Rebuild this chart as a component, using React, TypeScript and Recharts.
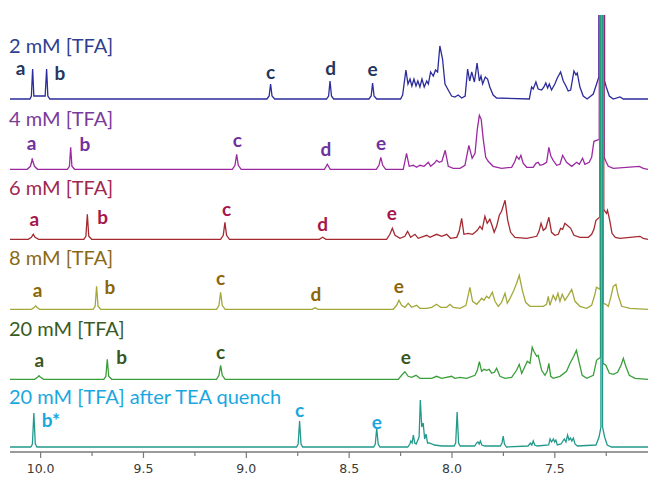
import { LineChart, Line, XAxis, YAxis, ReferenceDot } from 'recharts';

// chemical shift (ppm) vs. signal height above each trace's baseline
const TFA_2MM: [number, number][] = [
  [10.149, 0], [10.052, 0], [10.045, 3], [10.039, 30], [10.033, 3], [9.978, 3], [9.971, 30], [9.965, 3], [9.955, 0],
  [8.900, 0], [8.889, 3], [8.882, 15], [8.875, 3], [8.862, 0],
  [8.610, 0], [8.600, 3], [8.593, 18], [8.586, 3], [8.575, 0],
  [8.404, 0], [8.393, 3], [8.386, 16], [8.379, 3], [8.366, 0],
  [8.250, 0], [8.240, 4], [8.224, 29], [8.214, 15], [8.204, 20], [8.195, 13], [8.185, 20], [8.175, 13], [8.166, 18],
  [8.156, 12], [8.146, 20], [8.135, 12], [8.123, 18], [8.115, 15], [8.104, 27], [8.091, 23], [8.080, 29], [8.070, 27],
  [8.059, 53], [8.046, 40], [8.034, 15], [8.021, 10], [8.002, 3], [7.986, 2], [7.970, 4], [7.953, 1], [7.936, 3],
  [7.924, 30], [7.914, 18], [7.904, 27], [7.891, 17], [7.878, 36], [7.867, 18], [7.859, 23], [7.851, 15], [7.838, 22],
  [7.827, 20], [7.816, 12], [7.800, 4], [7.783, 1], [7.624, 0],
  [7.613, 12], [7.605, 10], [7.592, 17], [7.581, 10], [7.564, 9], [7.553, 12], [7.544, 16], [7.535, 11], [7.527, 15],
  [7.516, 9], [7.500, 15], [7.488, 21], [7.472, 27], [7.459, 18], [7.446, 13], [7.435, 8], [7.423, 9], [7.407, 28],
  [7.397, 24], [7.391, 26], [7.378, 12], [7.362, 3], [7.343, 0], [7.313, 5], [7.297, 15], [7.286, 22], [7.272, 5000],
  [7.258, 18], [7.250, 12], [7.235, 3], [7.216, 0], [7.183, 2], [7.167, 0], [7.047, 0],
];

const TFA_4MM: [number, number][] = [
  [10.149, 0], [10.065, 0], [10.050, 3], [10.043, 8], [10.041, 11], [10.038, 8], [10.030, 3], [10.015, 0],
  [9.870, 0], [9.860, 3], [9.854, 22], [9.848, 3], [9.835, 0],
  [9.068, 0], [9.055, 4], [9.047, 15], [9.039, 4], [9.025, 0],
  [8.620, 0], [8.606, 5], [8.592, 0],
  [8.368, 0], [8.355, 4], [8.346, 12], [8.337, 4], [8.322, 0],
  [8.237, 0], [8.221, 16], [8.208, 3], [8.188, 4], [8.172, 2], [8.156, 4], [8.136, 3], [8.115, 7], [8.104, 3],
  [8.086, 6], [8.075, 9], [8.062, 7], [8.049, 8], [8.033, 19], [8.018, 3], [7.994, 1], [7.961, 1], [7.937, 4],
  [7.918, 24], [7.902, 11], [7.888, 16], [7.877, 40], [7.867, 54], [7.858, 50], [7.848, 30], [7.836, 12], [7.824, 8],
  [7.800, 3], [7.759, 1], [7.710, 2], [7.694, 8], [7.686, 13], [7.674, 10], [7.665, 14], [7.654, 6], [7.637, 2],
  [7.605, 2], [7.592, 6], [7.581, 7], [7.572, 4], [7.556, 5], [7.540, 7], [7.529, 22], [7.519, 13], [7.508, 9],
  [7.491, 4], [7.475, 5], [7.462, 14], [7.443, 7], [7.418, 3], [7.394, 7], [7.381, 5], [7.365, 11], [7.354, 5],
  [7.333, 7], [7.321, 12], [7.310, 28], [7.297, 29], [7.284, 30], [7.272, 5000], [7.260, 12], [7.252, 8], [7.240, 3],
  [7.216, 1], [7.089, 3], [7.070, 1], [7.047, 0],
];

const TFA_6MM: [number, number][] = [
  [10.149, 0], [10.060, 0], [10.045, 2], [10.036, 5], [10.027, 2], [10.010, 0],
  [9.790, 0], [9.780, 3], [9.773, 25], [9.766, 3], [9.752, 0],
  [9.125, 0], [9.112, 4], [9.104, 17], [9.096, 4], [9.082, 0],
  [8.645, 0], [8.629, 2], [8.613, 0],
  [8.318, 0], [8.302, 5], [8.290, 11], [8.277, 4], [8.253, 1], [8.229, 3], [8.216, 8], [8.201, 2], [8.180, 5],
  [8.164, 1], [8.123, 4], [8.107, 2], [8.075, 5], [8.050, 3], [8.026, 5], [8.007, 1], [7.977, 2], [7.965, 8],
  [7.953, 21], [7.942, 5], [7.921, 6], [7.900, 5], [7.888, 7], [7.877, 9], [7.864, 13], [7.853, 10], [7.840, 23],
  [7.829, 16], [7.816, 20], [7.804, 13], [7.795, 7], [7.783, 13], [7.770, 24], [7.759, 28], [7.742, 39], [7.729, 19],
  [7.715, 7], [7.694, 2], [7.637, 1], [7.588, 3], [7.577, 8], [7.567, 16], [7.556, 9], [7.544, 11], [7.529, 22],
  [7.516, 7], [7.500, 4], [7.483, 5], [7.472, 11], [7.462, 10], [7.451, 16], [7.440, 14], [7.423, 11], [7.407, 4],
  [7.378, 2], [7.337, 2], [7.321, 5], [7.310, 10], [7.300, 19], [7.282, 22], [7.272, 5000], [7.262, 30], [7.256, 28],
  [7.249, 26], [7.244, 29], [7.233, 19], [7.222, 6], [7.206, 2], [7.183, 1], [7.086, 3], [7.070, 1], [7.047, 0],
];

const TFA_8MM: [number, number][] = [
  [10.149, 0], [10.045, 0], [10.030, 2], [10.024, 3.5], [10.018, 2], [10.005, 0],
  [9.745, 0], [9.735, 3], [9.728, 23], [9.721, 3], [9.708, 0],
  [9.145, 0], [9.133, 4], [9.125, 17], [9.117, 4], [9.103, 0],
  [8.680, 0], [8.666, 1.5], [8.650, 0],
  [8.286, 0], [8.269, 4], [8.258, 9], [8.245, 4], [8.229, 2], [8.213, 6], [8.196, 2], [8.172, 4], [8.156, 1],
  [8.123, 1], [8.099, 2], [8.075, 5], [8.055, 2], [8.026, 2], [8.010, 5], [7.994, 2], [7.961, 1], [7.932, 4],
  [7.913, 22], [7.900, 8], [7.880, 5], [7.867, 8], [7.856, 11], [7.845, 9], [7.832, 13], [7.820, 11], [7.804, 17],
  [7.791, 8], [7.775, 3], [7.759, 7], [7.742, 16], [7.731, 6], [7.715, 12], [7.699, 19], [7.686, 26], [7.673, 34],
  [7.658, 19], [7.642, 7], [7.621, 3], [7.588, 3], [7.556, 3], [7.540, 5], [7.532, 13], [7.524, 4], [7.508, 14],
  [7.496, 9], [7.485, 16], [7.475, 8], [7.464, 15], [7.451, 9], [7.435, 14], [7.418, 20], [7.402, 8], [7.378, 3],
  [7.345, 1], [7.321, 4], [7.305, 15], [7.298, 22], [7.280, 20], [7.272, 5000], [7.264, 6], [7.252, 5], [7.240, 3],
  [7.228, 12], [7.216, 23], [7.203, 25], [7.192, 14], [7.175, 3], [7.135, 1], [7.047, 0],
];

const TFA_20MM: [number, number][] = [
  [10.149, 0], [10.030, 0], [10.015, 2], [10.008, 3.5], [10.001, 2], [9.985, 0],
  [9.693, 0], [9.683, 3], [9.676, 20], [9.669, 3], [9.655, 0],
  [9.145, 0], [9.133, 4], [9.125, 14], [9.117, 4], [9.103, 0],
  [8.261, 0], [8.245, 4], [8.229, 7.6], [8.213, 3], [8.196, 2], [8.175, 4], [8.156, 1], [8.099, 1], [8.075, 3],
  [8.050, 1], [8.002, 3], [7.986, 1], [7.961, 2], [7.929, 1], [7.888, 4], [7.877, 9], [7.867, 17.6], [7.856, 8],
  [7.845, 10], [7.832, 9], [7.819, 10], [7.807, 6], [7.794, 7], [7.783, 11], [7.767, 3], [7.742, 1], [7.710, 2],
  [7.686, 9], [7.673, 15], [7.661, 6], [7.645, 13], [7.634, 18], [7.621, 16], [7.610, 32], [7.602, 28], [7.588, 23],
  [7.581, 24], [7.564, 9], [7.548, 4], [7.537, 8], [7.529, 16], [7.520, 3], [7.508, 1], [7.475, 3], [7.443, 8],
  [7.426, 16], [7.408, 23], [7.395, 29], [7.384, 19], [7.367, 4], [7.345, 1], [7.313, 4], [7.297, 19], [7.278, 22],
  [7.272, 5000], [7.266, 16], [7.252, 14], [7.235, 6], [7.216, 5], [7.195, 7], [7.178, 14], [7.167, 21], [7.155, 13],
  [7.138, 4], [7.110, 1], [7.047, 0],
];

const TFA_20MM_TEA: [number, number][] = [
  [10.149, 0], [10.048, 0], [10.040, 3], [10.033, 34], [10.026, 3], [10.018, 0],
  [8.756, 0], [8.748, 3], [8.741, 26], [8.734, 3], [8.726, 0],
  [8.381, 0], [8.373, 3], [8.366, 19], [8.359, 3], [8.350, 0],
  [8.215, 0], [8.205, 3], [8.200, 6], [8.194, 4], [8.188, 12], [8.181, 4], [8.174, 3], [8.160, 10], [8.154, 47],
  [8.147, 20], [8.140, 24], [8.133, 8], [8.126, 13], [8.119, 4], [8.110, 4], [8.085, 2], [8.050, 1], [7.990, 1],
  [7.982, 4], [7.975, 35], [7.968, 4], [7.960, 1], [7.890, 1], [7.880, 4], [7.874, 5], [7.868, 3], [7.862, 6],
  [7.855, 2], [7.840, 1], [7.765, 1], [7.757, 4], [7.751, 11], [7.745, 3], [7.735, 0], [7.630, 1], [7.619, 4],
  [7.612, 2], [7.605, 6], [7.598, 2], [7.585, 1], [7.530, 2], [7.523, 8], [7.516, 5], [7.507, 8], [7.501, 5],
  [7.495, 7], [7.488, 2], [7.470, 3], [7.454, 8], [7.446, 5], [7.438, 12], [7.431, 7], [7.424, 9], [7.417, 6],
  [7.410, 9], [7.402, 3], [7.390, 1], [7.300, 2], [7.285, 10], [7.276, 20], [7.272, 5000], [7.268, 20], [7.258, 10],
  [7.245, 2], [7.225, 0], [7.047, 0],
];

const SPECTRA = [TFA_2MM, TFA_4MM, TFA_6MM, TFA_8MM, TFA_20MM, TFA_20MM_TEA];
const SPECTRA_NAMES = ['2 mM [TFA]', '4 mM [TFA]', '6 mM [TFA]', '8 mM [TFA]', '20 mM [TFA]', '20 mM [TFA] after TEA quench'];
const TICKS = [10, 9.75, 9.5, 9.25, 9, 8.75, 8.5, 8.25, 8, 7.75, 7.5, 7.25];

// peak letters: [text, ppm, height above the trace's baseline]
const PEAK_TAGS: [string, number, number][][] = [
  [['a', 10.097, 32], ['b', 9.906, 27], ['c', 8.882, 28], ['d', 8.590, 32], ['e', 8.386, 31]],
  [['a', 10.044, 27], ['b', 9.785, 26], ['c', 9.044, 30], ['d', 8.613, 21], ['e', 8.345, 27]],
  [['a', 10.031, 21], ['b', 9.699, 23], ['c', 9.096, 31], ['d', 8.629, 16], ['e', 8.293, 27]],
  [['a', 10.015, 20], ['b', 9.663, 23], ['c', 9.125, 32], ['d', 8.662, 16], ['e', 8.258, 24]],
  [['a', 10.007, 20], ['b', 9.606, 23], ['c', 9.125, 28], ['e', 8.224, 23]],
  [['b*', 9.950, 28], ['c', 8.741, 38], ['e', 8.366, 26]],
];

// stacking
const OFFSETS = [353, 282.7, 212.7, 142.7, 72.7, 5];
const NAME_RISE = [54, 51, 52.6, 52.6, 51, 51];
const LINE_COLORS = ['#2b2b9c', '#9b2aa0', '#a32a30', '#a3a83a', '#3a9e3a', '#23998c'];
const NAME_COLORS = ['#2e3f8f', '#7a3b9c', '#a0284f', '#8b6914', '#3a5a23', '#1aa7e0'];
const TAG_COLORS = ['#26365e', '#7030a0', '#a5174b', '#8b6508', '#375623', '#1aa7e0'];

const X_DOMAIN: [number, number] = [7.047, 10.149];

function PpmTick(props: any) {
  const { x, y, payload } = props;
  const v = payload.value as number;
  const major = Math.round(v * 100) % 50 === 0;
  return (
    <g>
      <line x1={x} x2={x} y1={y} y2={y + (major ? 6 : 4)} stroke="#7a7a7a" strokeWidth={1.2} />
      {major && (
        <text x={x} y={y + 21} textAnchor="middle" fontFamily="DejaVu Sans" fontSize={12.5} fill="#3a3a3a">
          {v.toFixed(1)}
        </text>
      )}
    </g>
  );
}

export default function App() {
  const series = SPECTRA.map((pts, i) => pts.map(([ppm, h]) => ({ ppm, v: OFFSETS[i] + h })));

  return (
    <div style={{ position: 'absolute', left: 0, top: 0, background: '#fff' }}>
      <LineChart width={648} height={503} margin={{ top: 15, right: 0, bottom: 0, left: 10 }}>
        <XAxis
          type="number"
          dataKey="ppm"
          domain={X_DOMAIN}
          reversed
          allowDataOverflow
          ticks={TICKS}
          interval={0}
          tick={PpmTick}
          tickLine={false}
          tickSize={0}
          tickMargin={0}
          axisLine={{ stroke: '#7a7a7a', strokeWidth: 1.5 }}
          height={51}
        />
        <YAxis type="number" domain={[0, 437]} allowDataOverflow hide />
        {series.map((data, i) => (
          <Line
            key={SPECTRA_NAMES[i]}
            data={data}
            dataKey="v"
            type="linear"
            stroke={LINE_COLORS[i]}
            strokeWidth={1.3}
            dot={false}
            activeDot={false}
            isAnimationActive={false}
          />
        ))}
        {SPECTRA_NAMES.map((name, i) => (
          <ReferenceDot
            key={'n' + i}
            x={X_DOMAIN[1]}
            y={OFFSETS[i] + NAME_RISE[i]}
            r={0}
            ifOverflow="visible"
            shape={(p: any) => (
              <text x={p.cx - 1} y={p.cy} dominantBaseline="central" fontFamily="Lato" fontSize={20} fill={NAME_COLORS[i]}>
                {name}
              </text>
            )}
          />
        ))}
        {PEAK_TAGS.map((tags, i) =>
          tags.map(([t, ppm, rise]) => (
            <ReferenceDot
              key={'t' + i + t}
              x={ppm}
              y={OFFSETS[i] + rise}
              r={0}
              ifOverflow="visible"
              shape={(p: any) => (
                <text x={p.cx} y={p.cy} textAnchor="middle" dominantBaseline="central" fontFamily="Lato" fontWeight="bold" fontSize={19} fill={TAG_COLORS[i]}>
                  {t}
                </text>
              )}
            />
          ))
        )}
      </LineChart>
    </div>
  );
}
